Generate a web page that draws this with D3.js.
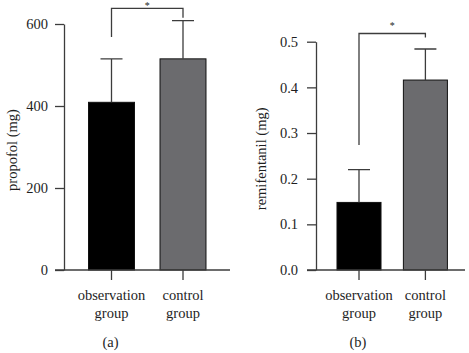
<!DOCTYPE html>
<html>
<head>
<meta charset="utf-8">
<script src="https://cdn.jsdelivr.net/npm/d3@7"></script>
<style>
  body { margin: 0; background: #fff; }
  svg { display: block; font-family: "Liberation Serif", "Times New Roman", serif; }
  .axis path, .axis line { stroke: #3c3c3c; stroke-width: 1.3; }
  .axis text { font-family: "Liberation Serif", serif; font-size: 14.5px; fill: #1e1e1e; }
  .label { font-size: 14.5px; fill: #1e1e1e; }
  .err, .bracket { stroke: #3c3c3c; stroke-width: 1.3; fill: none; }
</style>
</head>
<body>
<svg width="469" height="353"></svg>
<script>
var svg = d3.select('svg');

// data
var groups = ['observation group', 'control group'];
var propofolMean = [409, 515];
var propofolSD = [106, 93];
var remiMean = [0.148, 0.416];
var remiSD = [0.072, 0.068];
var propofolTicks = [0, 200, 400, 600];
var remiTicks = [0, 0.1, 0.2, 0.3, 0.4, 0.5];
// significance bracket: [left leg bottom, top, right leg bottom]
var propofolBracket = [568, 638, 615];
var remiBracket = [0.274, 0.518, 0.509];
var barColors = ['#000000', '#6b6b6e'];

// panel layouts
var panels = [
  {
    mean: propofolMean, sd: propofolSD, ticks: propofolTicks, fmt: d3.format('d'),
    bracket: propofolBracket, ylabel: 'propofol (mg)', tag: '(a)',
    yAxisX: 64, xAxisEnd: 230, top: 24, bottom: 270,
    xRange: [75.75, 218.75], pad: 0.357, yMax: 600, labelX: 12, labelPad: 7, starY: 9
  },
  {
    mean: remiMean, sd: remiSD, ticks: remiTicks, fmt: d3.format('.1f'),
    bracket: remiBracket, ylabel: 'remifentanil (mg)', tag: '(b)',
    yAxisX: 316, xAxisEnd: 465, top: 41.7, bottom: 270,
    xRange: [325.8, 458.6], pad: 0.337, yMax: 0.5, labelX: 261, labelPad: 9, starY: 29
  }
];

var tickLen = 9;

panels.forEach(function(p) {
  var x = d3.scaleBand().domain(groups).range(p.xRange)
    .paddingInner(p.pad).paddingOuter(p.pad / 2);
  var y = d3.scaleLinear().domain([0, p.yMax]).range([p.bottom, p.top]);
  var g = svg.append('g');

  // bars
  g.selectAll('.bar')
    .data(groups)
    .enter()
    .append('rect')
    .attr('class', 'bar')
    .attr('x', function(d) { return x(d); })
    .attr('width', x.bandwidth())
    .attr('y', function(d, i) { return y(p.mean[i]); })
    .attr('height', function(d, i) { return y(0) - y(p.mean[i]); })
    .style('fill', function(d, i) { return barColors[i]; })
    .style('stroke', '#111')
    .style('stroke-width', 1);

  // error bars (upper only)
  var cap = 11;
  g.selectAll('.err')
    .data(groups)
    .enter()
    .append('path')
    .attr('class', 'err')
    .attr('d', function(d, i) {
      var cx = x(d) + x.bandwidth() / 2;
      var y0 = y(p.mean[i]), y1 = y(p.mean[i] + p.sd[i]);
      return 'M' + cx + ',' + y0 + 'V' + y1 + 'M' + (cx - cap) + ',' + y1 + 'H' + (cx + cap);
    });

  // y axis
  g.append('g')
    .attr('class', 'axis')
    .attr('transform', 'translate(' + p.yAxisX + ',0)')
    .call(d3.axisLeft(y).tickValues(p.ticks).tickFormat(p.fmt)
      .tickSize(tickLen).tickSizeOuter(0).tickPadding(p.labelPad));

  // x axis
  var xa = g.append('g')
    .attr('class', 'axis')
    .attr('transform', 'translate(0,' + p.bottom + ')')
    .call(d3.axisBottom(x).tickSize(10).tickFormat(''));
  xa.select('.domain').remove();
  xa.append('line')
    .attr('x1', p.yAxisX - tickLen).attr('x2', p.xAxisEnd);

  // group labels
  groups.forEach(function(d) {
    var cx = x(d) + x.bandwidth() / 2;
    var words = d.split(' ');
    g.append('text').attr('class', 'label')
      .attr('x', cx).attr('y', 300).attr('text-anchor', 'middle').text(words[0]);
    g.append('text').attr('class', 'label')
      .attr('x', cx).attr('y', 318).attr('text-anchor', 'middle').text(words[1]);
  });

  // panel tag
  g.append('text').attr('class', 'label')
    .attr('x', x(groups[0]) + x.bandwidth() / 2 - 1).attr('y', 347)
    .attr('text-anchor', 'middle').text(p.tag);

  // y label
  g.append('text').attr('class', 'label')
    .attr('transform', 'translate(' + (p.labelX + 5) + ',' + ((p.top + p.bottom) / 2 + 3) + ') rotate(-90)')
    .attr('text-anchor', 'middle').text(p.ylabel);

  // significance bracket
  var xl = x(groups[0]) + x.bandwidth() / 2;
  var xr = x(groups[1]) + x.bandwidth() / 2;
  g.append('path').attr('class', 'bracket')
    .attr('d', 'M' + xl + ',' + y(p.bracket[0]) + 'V' + y(p.bracket[1]) +
      'H' + xr + 'V' + y(p.bracket[2]));
  g.append('text').attr('class', 'label')
    .attr('x', (xl + xr) / 2).attr('y', p.starY)
    .attr('text-anchor', 'middle').style('font-size', '10px').text('*');
});
</script>
</body>
</html>
